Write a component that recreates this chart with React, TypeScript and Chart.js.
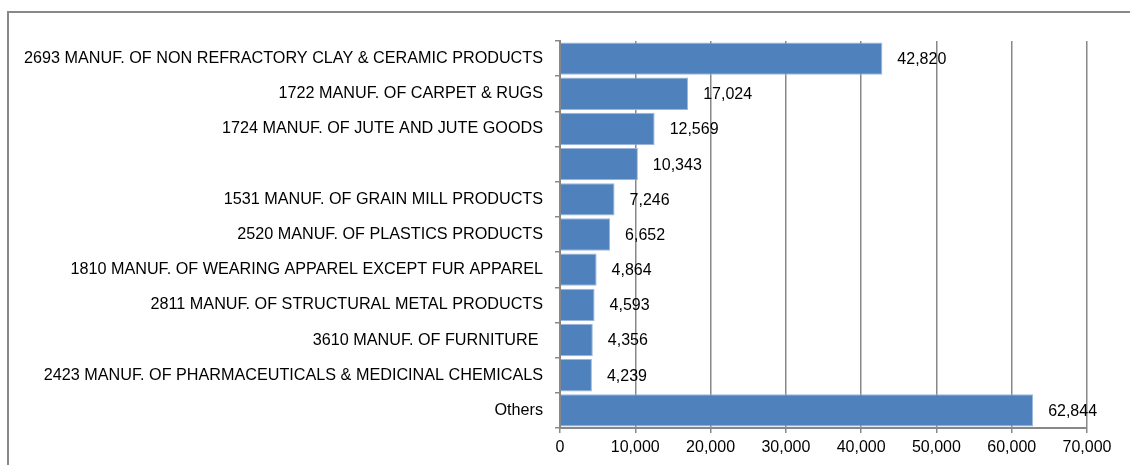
import React, { useEffect, useRef } from "react";
import { Chart, registerables } from "chart.js";

Chart.register(...registerables);

const categories: string[] = [
  "2693 MANUF. OF NON REFRACTORY CLAY & CERAMIC PRODUCTS",
  "1722 MANUF. OF CARPET & RUGS",
  "1724 MANUF. OF JUTE AND JUTE GOODS",
  "",
  "1531 MANUF. OF GRAIN MILL PRODUCTS",
  "2520 MANUF. OF PLASTICS PRODUCTS",
  "1810 MANUF. OF WEARING APPAREL EXCEPT FUR APPAREL",
  "2811 MANUF. OF STRUCTURAL METAL PRODUCTS",
  "3610 MANUF. OF FURNITURE ",
  "2423 MANUF. OF PHARMACEUTICALS & MEDICINAL CHEMICALS",
  "Others",
];

const values: number[] = [42820, 17024, 12569, 10343, 7246, 6652, 4864, 4593, 4356, 4239, 62844];

const xMin = 0;
const xMax = 70000;
const xStep = 10000;

const FONT = "'Liberation Sans', Arial, sans-serif";
const GRID = "#888888";

const fmt = (v: number) => v.toLocaleString("en-US");

const valueLabels = {
  id: "valueLabels",
  afterDatasetsDraw(chart: any) {
    const ctx = chart.ctx;
    const meta = chart.getDatasetMeta(0);
    ctx.save();
    ctx.font = `16px ${FONT}`;
    ctx.fillStyle = "#000000";
    ctx.textAlign = "left";
    ctx.textBaseline = "middle";
    meta.data.forEach((bar: any, i: number) => {
      ctx.fillText(fmt(values[i]), bar.x + 15, bar.y + 1);
    });
    ctx.restore();
  },
};

export default function App() {
  const ref = useRef<HTMLCanvasElement | null>(null);
  useEffect(() => {
    if (!ref.current) return;
    const chart = new Chart(ref.current, {
      type: "bar",
      data: {
        labels: categories,
        datasets: [
          {
            data: values,
            backgroundColor: "#4F81BD",
            borderColor: "#9cb7da",
            borderWidth: 1,
            barPercentage: 0.92,
            categoryPercentage: 1,
          },
        ],
      },
      options: {
        indexAxis: "y",
        responsive: false,
        animation: false,
        layout: { padding: { left: 0, top: 41, right: 43, bottom: 0 } },
        plugins: { legend: { display: false }, tooltip: { enabled: false } },
        scales: {
          x: {
            min: xMin,
            max: xMax,
            afterFit: (s: any) => {
              s.height = 37;
            },
            ticks: {
              stepSize: xStep,
              color: "#000000",
              font: { size: 16, family: FONT },
              padding: 5,
              callback: (v: any) => fmt(Number(v)),
            },
            grid: { color: GRID, lineWidth: 1.5, tickLength: 5, drawTicks: true },
            border: { color: GRID, width: 2 },
          },
          y: {
            afterFit: (s: any) => {
              s.width = 560;
            },
            ticks: {
              autoSkip: false,
              color: "#000000",
              font: { size: 16.2, family: FONT },
              padding: 12,
            },
            grid: { drawOnChartArea: false, color: GRID, lineWidth: 1.5, tickLength: 5, offset: true },
            border: { color: GRID, width: 2 },
          },
        },
      },
      plugins: [valueLabels],
    });
    return () => chart.destroy();
  }, []);

  return (
    <div style={{ position: "absolute", left: 0, top: 0, width: 1130, height: 465, overflow: "hidden", background: "#fff" }}>
      <canvas ref={ref} width={1130} height={465} style={{ position: "absolute", left: 0, top: 0 }} />
      <div
        style={{
          position: "absolute",
          left: 7,
          top: 11,
          width: 1123,
          height: 454,
          boxSizing: "border-box",
          borderTop: `2px solid ${GRID}`,
          borderLeft: `2px solid ${GRID}`,
          pointerEvents: "none",
        }}
      />
    </div>
  );
}
